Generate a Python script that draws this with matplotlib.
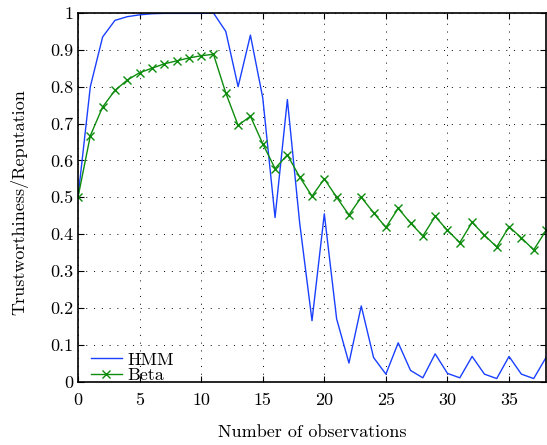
import matplotlib
matplotlib.use("Agg")
import matplotlib.pyplot as plt
import numpy as np

plt.rcParams['font.family'] = ['cmr10', 'DejaVu Serif']
plt.rcParams['axes.formatter.use_mathtext'] = True
plt.rcParams['mathtext.fontset'] = 'cm'

x_obs = list(range(39))
hmm = [0.5, 0.80, 0.935, 0.98, 0.99, 0.995, 0.998, 0.999, 0.999, 0.999, 0.999, 1.0,
       0.95, 0.80, 0.94, 0.77, 0.445, 0.765, 0.43, 0.165, 0.455, 0.17, 0.05, 0.205,
       0.065, 0.02, 0.105, 0.03, 0.01, 0.075, 0.022, 0.01, 0.068, 0.02, 0.008,
       0.068, 0.02, 0.008, 0.065]
beta = [0.5, 0.667, 0.745, 0.79, 0.818, 0.838, 0.85, 0.862, 0.87, 0.878, 0.884, 0.888,
        0.783, 0.695, 0.72, 0.645, 0.578, 0.615, 0.555, 0.503, 0.55, 0.5, 0.452, 0.50,
        0.458, 0.418, 0.47, 0.43, 0.395, 0.448, 0.41, 0.377, 0.432, 0.397, 0.365,
        0.42, 0.39, 0.357, 0.41]
xticks = [0, 5, 10, 15, 20, 25, 30, 35]
yticks = [0, 0.1, 0.2, 0.3, 0.4, 0.5, 0.6, 0.7, 0.8, 0.9, 1]
ytick_labels = ['0', '0.1', '0.2', '0.3', '0.4', '0.5', '0.6', '0.7', '0.8', '0.9', '1']

fig = plt.figure(figsize=(5.47, 4.45), dpi=100)
ax = fig.add_axes([78/547, 1 - 381.5/445, 468/547, (381.5 - 13)/445])

ax.plot(x_obs, hmm, color=(0.1, 0.25, 1.0), lw=1.0, label='HMM')
ax.plot(x_obs, beta, color=(0.05, 0.55, 0.05), lw=1.0, marker='x', ms=5.5, mew=1.0, label='Beta')

ax.set_xlim(0, 38)
ax.set_ylim(0, 1)
ax.set_xticks(xticks)
ax.set_xticklabels([str(t) for t in xticks])
ax.set_yticks(yticks)
ax.set_yticklabels(ytick_labels)
ax.tick_params(direction='in', top=True, right=True, length=4, labelsize=13, width=0.8)
ax.tick_params(axis='x', pad=8)
ax.grid(True, color='black', linestyle=(0, (1, 7)), linewidth=0.7)
for s in ax.spines.values():
    s.set_linewidth(1.2)

ax.set_xlabel('Number of observations', fontsize=13, labelpad=12)
ax.set_ylabel('Trustworthiness/Reputation', fontsize=13)
ax.yaxis.set_label_coords(-0.105, 0.486)

ax.legend(loc='lower left', frameon=False, fontsize=13, handlelength=1.7,
          handletextpad=0.3, labelspacing=0.0, borderaxespad=0.0, borderpad=0.0,
          bbox_to_anchor=(13/468, -0.005))

fig.savefig('out.png', dpi=100)
